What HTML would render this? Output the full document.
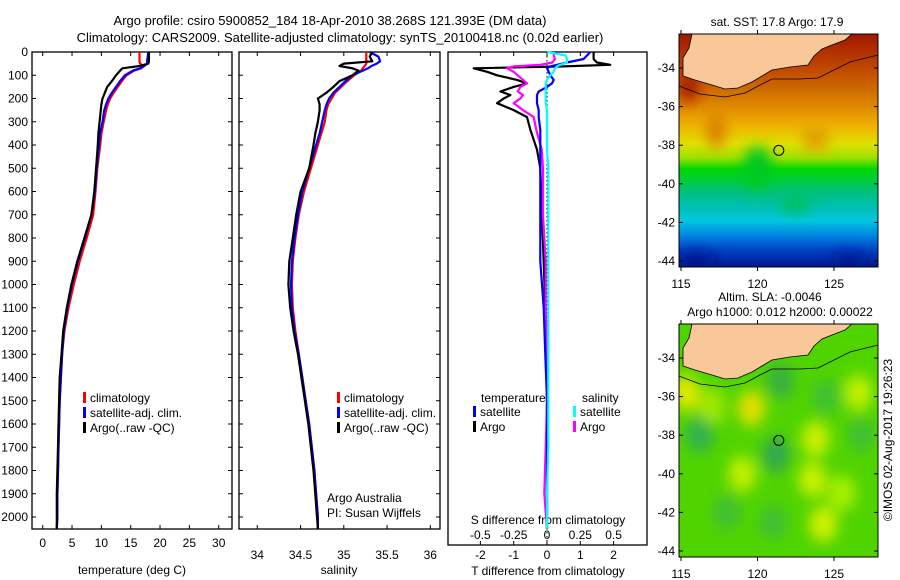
<!DOCTYPE html>
<html><head><meta charset="utf-8">
<style>
html,body{margin:0;padding:0;background:#fff;}
svg{display:block;font-family:"Liberation Sans",sans-serif;}
text{fill:#000;}
</style></head>
<body>
<svg id="fig" width="900" height="580" viewBox="0 0 900 580" xmlns="http://www.w3.org/2000/svg">
<defs>
<linearGradient id="sstGrad" x1="0" y1="0" x2="0" y2="1">
<stop offset="0" stop-color="#a01800"/>
<stop offset="0.15" stop-color="#c04800"/>
<stop offset="0.25" stop-color="#d07000"/>
<stop offset="0.31" stop-color="#e08800"/>
<stop offset="0.39" stop-color="#f0b000"/>
<stop offset="0.47" stop-color="#e0e000"/>
<stop offset="0.53" stop-color="#a0e000"/>
<stop offset="0.58" stop-color="#00d800"/>
<stop offset="0.68" stop-color="#00c080"/>
<stop offset="0.76" stop-color="#00c0c0"/>
<stop offset="0.8" stop-color="#00c8e0"/>
<stop offset="0.87" stop-color="#0080e0"/>
<stop offset="0.93" stop-color="#0040c0"/>
<stop offset="1" stop-color="#001890"/>
</linearGradient>
<clipPath id="clip1"><rect x="679" y="34" width="199" height="233"/></clipPath>
<clipPath id="clip2"><rect x="679" y="324" width="199" height="233"/></clipPath>
<filter id="blur"><feGaussianBlur stdDeviation="7"/></filter>
</defs>
<g id="titles">
<text x="330" y="25" text-anchor="middle" font-size="13">Argo profile: csiro 5900852_184 18-Apr-2010 38.268S 121.393E (DM data)</text>
<text x="340" y="42" text-anchor="middle" font-size="13">Climatology: CARS2009. Satellite-adjusted climatology: synTS_20100418.nc (0.02d earlier)</text>
</g>
<g id="p1"></g>
<g id="p2"></g>
<g id="p3"></g>
<g id="map1"></g>
<g id="map2"></g>
<text transform="translate(892,440) rotate(-90)" text-anchor="middle" font-size="12">©IMOS 02-Aug-2017 19:26:23</text>
</svg>
<script>
const depths = [0,20,40,50,60,70,80,100,125,150,175,200,225,250,300,350,400,500,600,700,800,900,1000,1100,1200,1300,1400,1500,1600,1700,1800,1900,2000,2050];
const tClim = [16.5,16.5,16.5,16.6,17.2,16.8,15.6,14.3,13.5,12.8,12.1,11.5,11.1,10.8,10.4,10.0,9.8,9.3,9.0,8.6,7.5,6.3,5.3,4.4,3.7,3.3,3.1,2.9,2.8,2.7,2.6,2.5,2.5,2.4];
const tSat = [18,17.9,17.8,17.8,17.3,16.6,15.4,14.0,13.2,12.5,11.8,11.2,10.8,10.5,10.2,9.8,9.6,9.2,8.9,8.3,7.2,6.0,5.0,4.2,3.6,3.3,3.1,2.9,2.8,2.7,2.6,2.5,2.5,2.4];
const tArgo = [18.1,18.1,18.1,18.0,16.5,13.6,13.2,12.5,11.8,11.0,10.6,10.2,10.0,9.9,9.7,9.5,9.4,9.1,8.8,8.3,7.1,5.9,4.9,4.1,3.5,3.2,2.9,2.8,2.7,2.6,2.5,2.4,2.4,2.4];
const sClim = [35.26,35.26,35.26,35.26,35.24,35.22,35.2,35.12,35.04,34.97,34.9,34.86,34.82,34.8,34.78,34.74,34.7,34.62,34.54,34.48,34.44,34.41,34.4,34.41,34.44,34.48,34.52,34.56,34.6,34.63,34.66,34.68,34.7,34.7];
const sSat = [35.3,35.4,35.42,35.38,35.32,35.28,35.22,35.1,35.02,34.95,34.88,34.83,34.8,34.78,34.75,34.72,34.68,34.6,34.52,34.47,34.43,34.4,34.39,34.4,34.43,34.48,34.52,34.56,34.6,34.63,34.66,34.68,34.7,34.7];
const sArgo = [35.33,35.3,35.33,35.0,34.95,35.1,35.17,35.1,34.95,34.88,34.8,34.7,34.72,34.72,34.7,34.67,34.65,34.6,34.5,34.45,34.41,34.37,34.36,34.38,34.42,34.47,34.51,34.55,34.59,34.62,34.65,34.67,34.69,34.7];
const dDepths = [0,15,30,45,55,62,70,85,100,120,135,150,170,185,200,220,250,280,335,420,500,700,900,1100,1300,1500,1700,1900,2050];
const dTArgo = [1.4,1.4,1.4,1.5,1.9,0.5,-2.2,-1.8,-1.5,-0.9,-0.6,-1.0,-1.4,-1.1,-1.3,-1.5,-1.0,-0.6,-0.5,-0.3,-0.2,-0.15,-0.1,-0.05,0,0,0,0,0];
const dSArgo = [0.05,0.05,0.06,0.04,-0.05,-0.25,-0.3,-0.25,-0.22,-0.18,-0.15,-0.2,-0.22,-0.18,-0.2,-0.25,-0.18,-0.1,-0.08,-0.04,-0.03,-0.03,-0.01,-0.01,0,0,-0.01,-0.02,0];
const dTSat = [1.3,1.2,1.1,0.6,0.3,0.1,0,0.05,0.1,0.2,0.15,0,-0.25,-0.3,-0.3,-0.3,-0.25,-0.25,-0.2,-0.2,-0.2,-0.2,-0.2,-0.1,-0.05,0,0,0,0];
const dSSat = [0,0.14,0.15,0.15,0.1,0.075,0.06,0.05,0.025,0,-0.01,-0.01,-0.01,-0.01,-0.01,-0.01,0,0,0,0,0.01,0.01,0.01,0.01,0.01,0.01,0.01,0,0];
const depthTicks = [0,100,200,300,400,500,600,700,800,900,1000,1100,1200,1300,1400,1500,1600,1700,1800,1900,2000];
const tTicks = [0,5,10,15,20,25,30];
const sTicks = [34,34.5,35,35.5,36];
const dTTicks = [-2,-1,0,1,2];
const dSTicks = [-0.5,-0.25,0,0.25,0.5];
const dSLabels = ["-0.5","-0.25","0","0.25","0.5"];
const lonTicks = [115,120,125];
const latTicks = [-34,-36,-38,-40,-42,-44];
const argoLon = 121.393, argoLat = -38.268;

const NS="http://www.w3.org/2000/svg";
function mk(parent,tag,attrs,txt){const e=document.createElementNS(NS,tag);for(const k in attrs)e.setAttribute(k,attrs[k]);if(txt!==undefined)e.textContent=txt;parent.appendChild(e);return e;}
function lin(d0,d1,r0,r1){return v=>r0+(v-d0)/(d1-d0)*(r1-r0);}

const yD = lin(0,2000,52,517);

function frame(g,x0,x1,y0,y1,name){
  const r=mk(g,'rect',{x:x0,y:y0,width:x1-x0,height:y1-y0,fill:'none',stroke:'#000','stroke-width':1.3});
  
  
}
function series(g,xs,ds,xf,yf,color,name,w){
  let d='';xs.forEach((v,i)=>{d+=(i?'L':'M')+xf(v).toFixed(1)+','+yf(ds[i]).toFixed(1);});
  const p=mk(g,'path',{d:d,fill:'none',stroke:color,'stroke-width':w||2.2,'stroke-linejoin':'round'});
  
  
}
function depthAxis(g,x0,x1,labels){
  depthTicks.forEach(t=>{const y=yD(t);
    mk(g,'line',{x1:x0,x2:x0+4,y1:y,y2:y,stroke:'#000'});
    mk(g,'line',{x1:x1-4,x2:x1,y1:y,y2:y,stroke:'#000'});
    if(labels){const tx=mk(g,'text',{x:x0-4,y:y+4,'text-anchor':'end','font-size':12},String(t));
      
      }
  });
}
function bottomAxis(g,ticks,labs,xf,y0,y1,ly){
  ticks.forEach((t,i)=>{const x=xf(t);
    mk(g,'line',{x1:x,x2:x,y1:y1,y2:y1-4,stroke:'#000'});
    mk(g,'line',{x1:x,x2:x,y1:y0,y2:y0+4,stroke:'#000'});
    const tx=mk(g,'text',{x:x,y:ly,'text-anchor':'middle','font-size':12},labs[i]);
    
    
  });
}
function legend(g,x,y,items){
  items.forEach((it,i)=>{
    const yy=y+i*15;
    const m=mk(g,'rect',{x:x,y:yy-10,width:3,height:11,fill:it[0]});
    
    
    const t=mk(g,'text',{x:x+7,y:yy,'font-size':12},it[1]);
    
    
  });
}

// Panel 1
const p1=document.getElementById('p1');
const xT=lin(0,30,42.7,218.7);
frame(p1,32,232,52,529,'temperature-axes');
depthAxis(p1,32,232,true);
bottomAxis(p1,tTicks,tTicks.map(String),xT,52,529,547);
series(p1,tClim,depths,xT,yD,'#ff0000','temperature-climatology-line');
series(p1,tSat,depths,xT,yD,'#0000ff','temperature-satellite-line');
series(p1,tArgo,depths,xT,yD,'#000000','temperature-argo-line');
{const t=mk(p1,'text',{x:132,y:574,'text-anchor':'middle','font-size':12},'temperature (deg C)');}
legend(p1,83,402,[['#ff0000','climatology'],['#0000ff','satellite-adj. clim.'],['#000','Argo(..raw -QC)']]);

// Panel 2
const p2=document.getElementById('p2');
const xS=lin(34,36,257.3,430.3);
frame(p2,239,440,52,529,'salinity-axes');
depthAxis(p2,239,440,false);
bottomAxis(p2,sTicks,sTicks.map(String),xS,52,529,559);
series(p2,sClim,depths,xS,yD,'#ff0000','salinity-climatology-line');
series(p2,sSat,depths,xS,yD,'#0000ff','salinity-satellite-line');
series(p2,sArgo,depths,xS,yD,'#000000','salinity-argo-line');
{const t=mk(p2,'text',{x:339,y:574,'text-anchor':'middle','font-size':12},'salinity');}
legend(p2,337,402,[['#ff0000','climatology'],['#0000ff','satellite-adj. clim.'],['#000','Argo(..raw -QC)']]);
{const t=mk(p2,'text',{x:327,y:502,'font-size':12},'Argo Australia');
 const t2=mk(p2,'text',{x:327,y:517,'font-size':12},'PI: Susan Wijffels');}

// Panel 3
const p3=document.getElementById('p3');
const xDT=lin(0,1,547,580.3);
const xDS=v=>xDT(v*4);
frame(p3,448,647,52,545,'difference-axes');
mk(p3,'line',{x1:547,x2:547,y1:52,y2:545,stroke:'#000','stroke-dasharray':'1.5,2.5'});
dTTicks.forEach(t=>{const x=xDT(t);mk(p3,'line',{x1:x,x2:x,y1:52,y2:56,stroke:'#000'});mk(p3,'line',{x1:x,x2:x,y1:545,y2:541,stroke:'#000'});});
dTTicks.forEach(t=>{const tx=mk(p3,'text',{x:xDT(t),y:559,'text-anchor':'middle','font-size':12},String(t));});
dSTicks.forEach((t,i)=>{const tx=mk(p3,'text',{x:xDS(t),y:539,'text-anchor':'middle','font-size':12},dSLabels[i]);});
{const t=mk(p3,'text',{x:548,y:524,'text-anchor':'middle','font-size':12},'S difference from climatology');
 const t2=mk(p3,'text',{x:548,y:575,'text-anchor':'middle','font-size':12},'T difference from climatology');}
series(p3,dTArgo,dDepths,xDT,yD,'#000','t-diff-argo-line');
series(p3,dSArgo,dDepths,xDS,yD,'#ff00ff','s-diff-argo-line');
series(p3,dTSat,dDepths,xDT,yD,'#0000ff','t-diff-satellite-line');
series(p3,dSSat,dDepths,xDS,yD,'#00ffff','s-diff-satellite-line');
{const t=mk(p3,'text',{x:481,y:402,'font-size':12},'temperature');
 const t2=mk(p3,'text',{x:582,y:402,'font-size':12},'salinity');}
legend(p3,473,416,[['#0000ff','satellite'],['#000','Argo']]);
legend(p3,573,416,[['#00ffff','satellite'],['#ff00ff','Argo']]);

// Maps
const lonX=lin(115,125,681,834);
function mapFrame(g,y0,latY,clip,isSst){
  const gg=mk(g,'g',{'clip-path':'url(#'+clip+')'});
  if(isSst){
    const bg=mk(gg,'rect',{x:679,y:y0,width:199,height:233,fill:'url(#sstGrad)'});
    
    
    const bl=mk(gg,'g',{filter:'url(#blur)'});
    mk(bl,'ellipse',{cx:lonX(120),cy:latY(-39.2),rx:14,ry:22,fill:'#00c820'});
    mk(bl,'ellipse',{cx:lonX(117.3),cy:latY(-37.2),rx:10,ry:18,fill:'#d88000'});
    mk(bl,'ellipse',{cx:lonX(123.8),cy:latY(-37.6),rx:14,ry:14,fill:'#e0a000'});
    mk(bl,'ellipse',{cx:lonX(122.5),cy:latY(-41),rx:16,ry:10,fill:'#00c060'});
    mk(bl,'ellipse',{cx:lonX(116),cy:latY(-44),rx:18,ry:8,fill:'#001890'});
    mk(bl,'ellipse',{cx:lonX(126),cy:latY(-44),rx:14,ry:8,fill:'#001890'});
    mk(bl,'ellipse',{cx:lonX(115.5),cy:latY(-35),rx:10,ry:14,fill:'#a01800'});
  } else {
    const bg=mk(gg,'rect',{x:679,y:y0,width:199,height:233,fill:'#50d400'});
    
    
    const bl=mk(gg,'g',{filter:'url(#blur)'});
    [[119.6,-36.6,'#e0e000'],[115.3,-35.8,'#e0e800'],[123.8,-38.2,'#c8f000'],[124.3,-42.6,'#d0f000'],[123.6,-40.3,'#c8f000'],[119,-40,'#c0f000'],[126.6,-35.8,'#c0f000'],[117,-36.5,'#a0e800'],[125.5,-41,'#a8f000']].forEach(b=>mk(bl,'ellipse',{cx:lonX(b[0]),cy:latY(b[1]),rx:14,ry:18,fill:b[2]}));
    [[116.2,-38,'#30b050'],[121.2,-39,'#30a850'],[121.5,-35.2,'#38b040'],[124.5,-36,'#40c030'],[118,-42,'#40c030'],[126.8,-38,'#40c030'],[121,-42.5,'#40c030']].forEach(b=>mk(bl,'ellipse',{cx:lonX(b[0]),cy:latY(b[1]),rx:14,ry:18,fill:b[2]}));
  }
  const o=y0-34;
  const land=mk(gg,'path',{d:`M692,${34+o} L689,${48+o} L683,${58+o} L683,${76+o} L695,${80+o} L712,${85+o} L725,${89+o} L738,${88+o} L752,${82+o} L762,${76+o} L772,${70+o} L790,${67+o} L808,${65+o} L814,${56+o} L822,${49+o} L832,${45+o} L845,${40+o} L852,${34+o} Z`,fill:'#f8c898',stroke:'#000','stroke-width':0.8});
  
  
  mk(gg,'path',{d:`M679,${86+o} L700,${94+o} L725,${97+o} L745,${93+o} L760,${85+o} L772,${79+o} L800,${79+o} L818,${78+o} L830,${72+o} L850,${62+o} L878,${55+o}`,fill:'none',stroke:'#000','stroke-width':0.8});
  const c=mk(g,'circle',{cx:lonX(argoLon),cy:latY(argoLat),r:5,fill:'none',stroke:'#000','stroke-width':1});
  
  
  const fr=mk(g,'rect',{x:679,y:y0,width:199,height:233,fill:'none',stroke:'#000','stroke-width':1});
  
  
  latTicks.forEach(t=>{const y=latY(t);mk(g,'line',{x1:679,x2:683,y1:y,y2:y,stroke:'#000'});mk(g,'line',{x1:874,x2:878,y1:y,y2:y,stroke:'#000'});
    const tx=mk(g,'text',{x:675,y:y+4,'text-anchor':'end','font-size':12},String(t));
    
    });
  lonTicks.forEach(t=>{const x=lonX(t);mk(g,'line',{x1:x,x2:x,y1:y0,y2:y0-4,stroke:'#000'});mk(g,'line',{x1:x,x2:x,y1:y0+233,y2:y0+237,stroke:'#000'});
    const tx=mk(g,'text',{x:x,y:y0+254,'text-anchor':'middle','font-size':12},String(t));
    
    });
}
const m1=document.getElementById('map1');
mapFrame(m1,34,lin(-34,-44,68,261),'clip1',true);
{const t=mk(m1,'text',{x:777,y:26,'text-anchor':'middle','font-size':12},'sat. SST: 17.8 Argo: 17.9');}
const m2=document.getElementById('map2');
mapFrame(m2,324,lin(-34,-44,358,551),'clip2',false);
{const t=mk(m2,'text',{x:770,y:301,'text-anchor':'middle','font-size':12},'Altim. SLA: -0.0046');
 const t2=mk(m2,'text',{x:780,y:316,'text-anchor':'middle','font-size':12},'Argo h1000: 0.012 h2000: 0.00022');}
</script>
</body></html>
